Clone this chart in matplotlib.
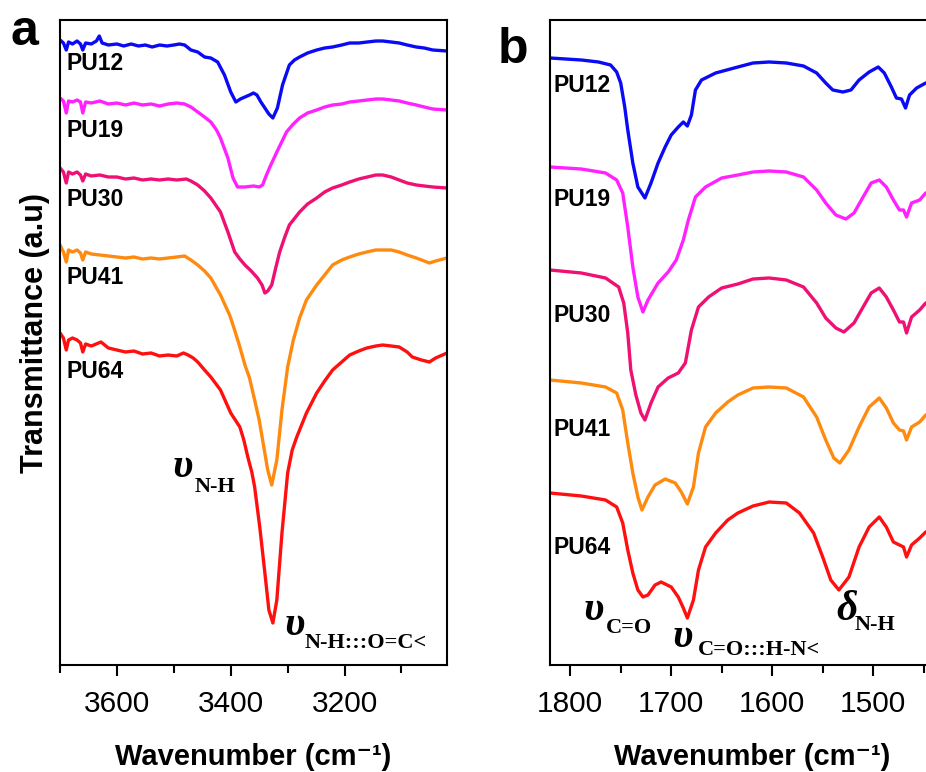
import matplotlib.pyplot as plt

# --- panel a: N-H stretching region (wavenumber cm-1, transmittance a.u.) ---
wn_a_pu12 = [3700, 3694, 3689, 3685, 3678, 3670, 3664, 3660, 3655, 3645, 3636, 3631, 3626, 3615,
             3600, 3588, 3575, 3562, 3550, 3538, 3525, 3512, 3500, 3490, 3481, 3470, 3458, 3446,
             3435, 3423, 3411, 3400, 3391, 3383, 3375, 3367, 3360, 3354, 3347, 3340, 3333, 3326,
             3318, 3309, 3297, 3288, 3279, 3265, 3249, 3235, 3221, 3205, 3191, 3175, 3160, 3145,
             3133, 3118, 3104, 3090, 3074, 3060, 3045, 3020]
t_a_pu12 = [6.25, 6.22, 6.15, 6.23, 6.21, 6.24, 6.21, 6.15, 6.22, 6.21, 6.24, 6.29, 6.22, 6.20,
            6.21, 6.19, 6.21, 6.19, 6.20, 6.18, 6.20, 6.19, 6.20, 6.21, 6.20, 6.15, 6.13, 6.08,
            6.07, 6.03, 5.90, 5.73, 5.63, 5.66, 5.68, 5.70, 5.72, 5.70, 5.63, 5.57, 5.51, 5.47,
            5.57, 5.80, 6.00, 6.05, 6.08, 6.12, 6.15, 6.17, 6.18, 6.20, 6.22, 6.22, 6.23, 6.24,
            6.24, 6.23, 6.22, 6.20, 6.18, 6.17, 6.15, 6.14]

wn_a_pu19 = [3700, 3694, 3689, 3685, 3678, 3670, 3664, 3660, 3655, 3645, 3630, 3615, 3600, 3585,
             3570, 3555, 3540, 3525, 3510, 3495, 3481, 3470, 3458, 3446, 3435, 3425, 3418, 3405,
             3396, 3388, 3375, 3360, 3350, 3344, 3338, 3332, 3319, 3302, 3290, 3279, 3265, 3249,
             3235, 3221, 3205, 3191, 3175, 3160, 3145, 3133, 3118, 3104, 3090, 3074, 3060, 3045, 3020]
t_a_pu19 = [5.67, 5.64, 5.52, 5.64, 5.63, 5.65, 5.63, 5.52, 5.63, 5.62, 5.64, 5.61, 5.62, 5.60,
            5.62, 5.60, 5.61, 5.59, 5.61, 5.62, 5.61, 5.58, 5.53, 5.48, 5.43, 5.35, 5.27, 5.07,
            4.87, 4.78, 4.78, 4.79, 4.78, 4.80, 4.89, 4.97, 5.13, 5.33, 5.41, 5.47, 5.52, 5.55,
            5.58, 5.60, 5.61, 5.63, 5.64, 5.65, 5.66, 5.66, 5.65, 5.64, 5.62, 5.60, 5.58, 5.56, 5.55]

wn_a_pu30 = [3700, 3694, 3689, 3685, 3678, 3670, 3664, 3660, 3655, 3645, 3630, 3615, 3600, 3585,
             3570, 3555, 3540, 3525, 3510, 3495, 3478, 3470, 3458, 3446, 3435, 3418, 3405, 3393,
             3384, 3375, 3364, 3353, 3345, 3340, 3335, 3328, 3321, 3314, 3305, 3297, 3279, 3265,
             3249, 3235, 3221, 3205, 3191, 3175, 3160, 3145, 3133, 3118, 3104, 3090, 3074, 3060,
             3045, 3020]
t_a_pu30 = [4.97, 4.93, 4.82, 4.93, 4.91, 4.93, 4.90, 4.84, 4.91, 4.89, 4.90, 4.88, 4.88, 4.86,
            4.87, 4.85, 4.86, 4.85, 4.86, 4.85, 4.86, 4.84, 4.80, 4.74, 4.67, 4.53, 4.33, 4.13,
            4.06, 4.00, 3.94, 3.87, 3.80, 3.72, 3.74, 3.80, 3.97, 4.13, 4.28, 4.40, 4.53, 4.61,
            4.67, 4.73, 4.77, 4.80, 4.83, 4.86, 4.88, 4.90, 4.90, 4.88, 4.85, 4.82, 4.80, 4.79,
            4.78, 4.77]

wn_a_pu41 = [3700, 3694, 3689, 3685, 3678, 3670, 3664, 3660, 3655, 3645, 3630, 3615, 3600, 3585,
             3570, 3555, 3540, 3525, 3510, 3495, 3481, 3470, 3458, 3446, 3435, 3418, 3402, 3396,
             3385, 3375, 3367, 3358, 3350, 3344, 3335, 3328, 3319, 3310, 3300, 3290, 3279, 3267,
             3249, 3221, 3205, 3191, 3175, 3161, 3145, 3133, 3118, 3104, 3090, 3074, 3060, 3051,
             3040, 3020]
t_a_pu41 = [4.20, 4.13, 4.03, 4.15, 4.13, 4.15, 4.12, 4.05, 4.13, 4.11, 4.10, 4.09, 4.08, 4.07,
            4.08, 4.06, 4.07, 4.06, 4.07, 4.08, 4.09, 4.05, 4.00, 3.94, 3.87, 3.70, 3.50, 3.40,
            3.20, 3.00, 2.87, 2.65, 2.45, 2.25, 1.95, 1.80, 2.05, 2.55, 2.98, 3.25, 3.47, 3.65,
            3.80, 4.00, 4.05, 4.08, 4.11, 4.13, 4.15, 4.15, 4.15, 4.13, 4.10, 4.07, 4.04, 4.02,
            4.04, 4.07]

wn_a_pu64 = [3700, 3694, 3689, 3685, 3678, 3670, 3664, 3660, 3655, 3645, 3628, 3615, 3600, 3585,
             3570, 3555, 3540, 3525, 3510, 3495, 3483, 3475, 3466, 3458, 3446, 3435, 3418, 3400,
             3384, 3377, 3370, 3363, 3358, 3349, 3340, 3333, 3326, 3319, 3310, 3300, 3292, 3284,
             3267, 3249, 3235, 3221, 3205, 3191, 3175, 3161, 3145, 3133, 3118, 3104, 3090, 3081,
             3065, 3051, 3040, 3020]
t_a_pu64 = [3.32, 3.27, 3.15, 3.25, 3.27, 3.25, 3.22, 3.13, 3.21, 3.19, 3.23, 3.17, 3.15, 3.13,
            3.14, 3.11, 3.12, 3.09, 3.10, 3.09, 3.12, 3.10, 3.07, 3.03, 2.95, 2.88, 2.75, 2.52,
            2.38, 2.25, 2.08, 1.93, 1.78, 1.38, 0.92, 0.55, 0.42, 0.65, 1.32, 1.92, 2.15, 2.28,
            2.52, 2.72, 2.84, 2.95, 3.03, 3.10, 3.14, 3.17, 3.19, 3.20, 3.19, 3.18, 3.13, 3.08,
            3.05, 3.03, 3.07, 3.12]

# --- panel b: carbonyl / amide II region ---
wn_b_pu12 = [1820, 1789, 1772, 1760, 1754, 1750, 1746, 1743, 1738, 1733, 1726, 1720, 1713, 1706,
             1700, 1693, 1688, 1684, 1680, 1676, 1670, 1656, 1634, 1619, 1603, 1586, 1569, 1556,
             1547, 1540, 1530, 1522, 1514, 1504, 1495, 1489, 1482, 1477, 1472, 1468, 1464, 1457,
             1448, 1420]
t_b_pu12 = [6.07, 6.05, 6.03, 6.00, 5.93, 5.82, 5.58, 5.35, 5.02, 4.78, 4.67, 4.82, 5.02, 5.18,
            5.30, 5.38, 5.43, 5.39, 5.50, 5.75, 5.85, 5.92, 5.98, 6.02, 6.03, 6.02, 5.99, 5.92,
            5.82, 5.75, 5.73, 5.75, 5.85, 5.93, 5.98, 5.92, 5.78, 5.67, 5.66, 5.57, 5.70, 5.77,
            5.82, 5.88]

wn_b_pu19 = [1820, 1789, 1765, 1754, 1748, 1743, 1738, 1733, 1728, 1723, 1713, 1703, 1695, 1688,
             1683, 1676, 1666, 1650, 1634, 1619, 1603, 1586, 1569, 1556, 1547, 1537, 1527, 1519,
             1510, 1502, 1494, 1487, 1480, 1474, 1470, 1467, 1462, 1454, 1448, 1420]
t_b_pu19 = [4.98, 4.96, 4.92, 4.85, 4.72, 4.38, 3.98, 3.68, 3.53, 3.65, 3.82, 3.93, 4.05, 4.25,
            4.45, 4.68, 4.78, 4.87, 4.90, 4.93, 4.94, 4.93, 4.88, 4.75, 4.62, 4.50, 4.46, 4.52,
            4.68, 4.82, 4.85, 4.78, 4.65, 4.55, 4.55, 4.48, 4.62, 4.65, 4.72, 4.80]

wn_b_pu30 = [1820, 1789, 1765, 1752, 1747, 1743, 1740, 1735, 1730, 1726, 1720, 1713, 1703, 1693,
             1686, 1680, 1673, 1663, 1650, 1634, 1619, 1603, 1586, 1569, 1556, 1547, 1537, 1529,
             1519, 1510, 1502, 1494, 1487, 1480, 1474, 1470, 1467, 1462, 1454, 1448, 1420]
t_b_pu30 = [3.95, 3.92, 3.87, 3.78, 3.62, 3.32, 2.95, 2.70, 2.52, 2.45, 2.62, 2.78, 2.87, 2.92,
            3.02, 3.35, 3.58, 3.68, 3.77, 3.81, 3.86, 3.87, 3.85, 3.78, 3.62, 3.47, 3.37, 3.33,
            3.42, 3.58, 3.72, 3.77, 3.68, 3.55, 3.43, 3.43, 3.32, 3.48, 3.55, 3.62, 3.70]

wn_b_pu41 = [1820, 1789, 1765, 1754, 1748, 1743, 1738, 1733, 1729, 1723, 1716, 1706, 1696, 1690,
             1684, 1678, 1673, 1666, 1656, 1644, 1634, 1619, 1603, 1586, 1569, 1556, 1547, 1539,
             1533, 1524, 1514, 1504, 1494, 1487, 1480, 1474, 1470, 1467, 1462, 1454, 1448, 1420]
t_b_pu41 = [2.85, 2.82, 2.78, 2.72, 2.55, 2.22, 1.92, 1.68, 1.55, 1.68, 1.80, 1.86, 1.82, 1.73,
            1.61, 1.78, 2.12, 2.38, 2.52, 2.63, 2.70, 2.77, 2.78, 2.77, 2.68, 2.48, 2.25, 2.07,
            2.02, 2.15, 2.38, 2.58, 2.67, 2.57, 2.42, 2.35, 2.34, 2.25, 2.38, 2.43, 2.50, 2.58]

wn_b_pu64 = [1820, 1789, 1765, 1754, 1748, 1743, 1738, 1733, 1728, 1723, 1716, 1710, 1700, 1693,
             1688, 1684, 1678, 1673, 1666, 1656, 1644, 1634, 1619, 1603, 1586, 1573, 1559, 1550,
             1542, 1534, 1524, 1514, 1504, 1494, 1487, 1480, 1474, 1470, 1467, 1462, 1454, 1448,
             1420]
t_b_pu64 = [1.72, 1.69, 1.65, 1.58, 1.42, 1.15, 0.92, 0.75, 0.68, 0.70, 0.80, 0.83, 0.78, 0.68,
            0.57, 0.47, 0.65, 0.95, 1.18, 1.32, 1.45, 1.52, 1.59, 1.63, 1.62, 1.52, 1.32, 1.08,
            0.85, 0.75, 0.88, 1.18, 1.38, 1.48, 1.38, 1.23, 1.20, 1.18, 1.08, 1.20, 1.27, 1.33,
            1.42]

samples = ["PU12", "PU19", "PU30", "PU41", "PU64"]
colors = ["#0a0af5", "#ff22ff", "#ee1173", "#ff8a10", "#ff1010"]

series_a = [(wn_a_pu12, t_a_pu12), (wn_a_pu19, t_a_pu19), (wn_a_pu30, t_a_pu30),
            (wn_a_pu41, t_a_pu41), (wn_a_pu64, t_a_pu64)]
series_b = [(wn_b_pu12, t_b_pu12), (wn_b_pu19, t_b_pu19), (wn_b_pu30, t_b_pu30),
            (wn_b_pu41, t_b_pu41), (wn_b_pu64, t_b_pu64)]

label_y_a = [6.02, 5.35, 4.65, 3.88, 2.93]
label_y_b = [5.80, 4.65, 3.50, 2.35, 1.18]

plt.rcParams['font.family'] = ['Liberation Sans', 'DejaVu Sans']

fig = plt.figure(figsize=(9.26, 7.72), dpi=100)
ax_a = fig.add_axes([60 / 926, 107 / 772, 387 / 926, 645 / 772])
ax_b = fig.add_axes([550 / 926, 107 / 772, 404 / 926, 645 / 772])

for (x, y), c in zip(series_a, colors):
    ax_a.plot(x, y, color=c, lw=2.4, solid_joinstyle='round')
for (x, y), c in zip(series_b, colors):
    ax_b.plot(x, y, color=c, lw=2.4, solid_joinstyle='round')

for name, ya in zip(samples, label_y_a):
    ax_a.text(3688, ya, name, fontsize=16.5, fontweight='bold', va='center', ha='left')
for name, yb in zip(samples, label_y_b):
    ax_b.text(1817, yb, name, fontsize=16.5, fontweight='bold', va='center', ha='left')

serif = ['Liberation Serif', 'DejaVu Serif']


def band(ax, x_sym, y_sym, sym, x_sub, y_sub, sub):
    ax.text(x_sym, y_sym, sym, fontsize=30, style='italic', fontweight='bold', family=serif,
            va='center', ha='left')
    ax.text(x_sub, y_sub, sub, fontsize=16, fontweight='bold', family=serif, va='center', ha='left')


band(ax_a, 3502, 1.98, "υ", 3463, 1.78, "N-H")
band(ax_a, 3305, 0.40, "υ", 3270, 0.22, "N-H:::O=C<")
band(ax_b, 1787, 0.55, "υ", 1765, 0.37, "C=O")
band(ax_b, 1699, 0.28, "υ", 1674, 0.15, "C=O:::H-N<")
band(ax_b, 1536, 0.55, "δ", 1518, 0.40, "N-H")

ax_a.set_xlim(3700, 3020)
ax_a.set_xticks([3600, 3400, 3200])
ax_a.set_xticks([3700, 3500, 3300, 3100], minor=True)
ax_b.set_xlim(1820, 1420)
ax_b.set_xticks([1800, 1700, 1600, 1500])
ax_b.set_xticks([1750, 1650, 1550, 1450], minor=True)

for ax in (ax_a, ax_b):
    ax.set_ylim(0, 6.45)
    ax.set_yticks([])
    for s in ax.spines.values():
        s.set_linewidth(1.5)
    ax.tick_params(axis='x', which='major', direction='out', length=8, width=1.5,
                   labelsize=21.5, pad=10)
    ax.tick_params(axis='x', which='minor', direction='out', length=6, width=1.5)
    ax.set_xlabel("Wavenumber (cm⁻¹)", fontsize=21, fontweight='bold', labelpad=18)

ax_a.set_ylabel("Transmittance (a.u)", fontsize=22, fontweight='bold')
ax_a.yaxis.set_label_coords(-0.026, 0.515)

fig.text(10 / 926, 1 - 45 / 772, "a", fontsize=36, fontweight='bold', va='baseline')
fig.text(498 / 926, 1 - 63 / 772, "b", fontsize=36, fontweight='bold', va='baseline')

fig.savefig("out.png", dpi=100)
